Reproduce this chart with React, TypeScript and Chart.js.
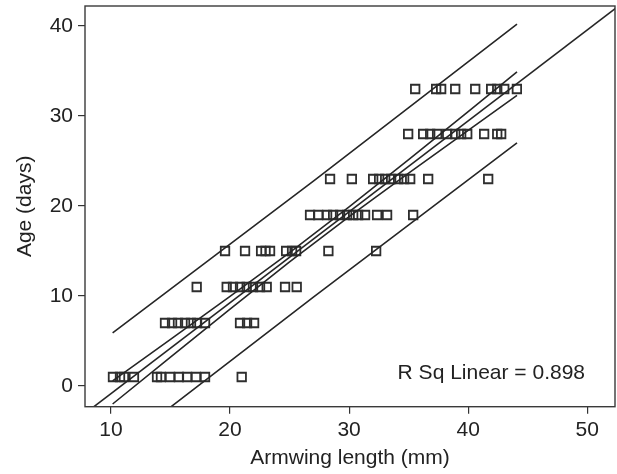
import React, { useEffect, useRef } from "react";
import { Chart, registerables } from "chart.js";

Chart.register(...registerables);

// ---- Data ----
const ageLevels = [1, 7, 11, 15, 19, 23, 28, 33];
const armwingAge1 = [10.17, 10.76, 11.09, 11.93, 13.87, 14.2, 14.96, 15.71, 16.39, 17.14, 17.9, 20.98];
const armwingAge7 = [14.54, 15.13, 15.63, 16.22, 16.72, 17.23, 17.9, 20.84, 21.43, 22.02];
const armwingAge11 = [17.2, 19.72, 20.25, 20.84, 21.4, 21.93, 22.52, 23.08, 24.62, 25.6];
const armwingAge15 = [19.58, 21.26, 22.61, 22.98, 23.36, 24.71, 25.21, 25.55, 28.26, 32.27];
const armwingAge19 = [26.72, 27.4, 28.15, 28.66, 29.24, 29.83, 30.34, 30.76, 31.34, 32.35, 33.19, 35.38];
const armwingAge23 = [28.4, 30.23, 32.02, 32.52, 33.03, 33.53, 34.12, 34.62, 35.13, 36.64, 41.68];
const armwingAge28 = [34.96, 36.22, 36.81, 37.39, 38.24, 38.91, 39.41, 39.92, 41.34, 42.44, 42.77];
const armwingAge33 = [35.55, 37.31, 37.73, 38.91, 40.59, 41.93, 42.44, 43.03, 44.09];
const armwingByAge = [armwingAge1, armwingAge7, armwingAge11, armwingAge15, armwingAge19, armwingAge23, armwingAge28, armwingAge33];

// Fit line (linear) and intervals
const fitX = [7, 53];
const fitY = [-3.88, 42.58];
const ciX = [10.14, 15, 20, 25, 30, 35, 40, 44.1];
const ciUpperY = [0.58, 5.18, 9.95, 14.82, 19.89, 25.15, 30.49, 34.9];
const ciLowerY = [-2.0, 3.22, 8.55, 13.78, 18.81, 23.65, 28.41, 32.28];
const piX = [10.14, 27, 44.1];
const piUpperY = [5.9, 22.77, 40.2];
const piLowerY = [-7.3, 9.87, 27.0];

const xTicks = [10, 20, 30, 40, 50];
const yTicks = [0, 10, 20, 30, 40];
const xMin = 7.82;
const xMax = 52.33;
const yMin = -2.3;
const yMax = 42.22;

const xTitle = "Armwing length (mm)";
const yTitle = "Age (days)";
const rSqLabel = "R Sq Linear = 0.898";

const FONT = "'Liberation Sans', Arial, Helvetica, sans-serif";
const TEXT = "#222222";
const INK = "#262626";

const toPts = (xs: number[], ys: number[]) => xs.map((x, i) => ({ x, y: ys[i] }));

const boxPlugin = {
  id: "boxAndLabel",
  afterDraw(chart: any) {
    const { ctx, chartArea: a } = chart;
    ctx.save();
    ctx.strokeStyle = "#3a3a3a";
    ctx.lineWidth = 1.4;
    ctx.strokeRect(a.left, a.top, a.right - a.left, a.bottom - a.top);
    ctx.font = `21px ${FONT}`;
    ctx.fillStyle = TEXT;
    ctx.textAlign = "right";
    ctx.textBaseline = "alphabetic";
    ctx.fillText(rSqLabel, a.right - 30, a.bottom - 27.5);
    ctx.restore();
  },
};

export default function App() {
  const ref = useRef<HTMLCanvasElement | null>(null);

  useEffect(() => {
    if (!ref.current) return;
    const points: { x: number; y: number }[] = [];
    armwingByAge.forEach((arr, i) => arr.forEach((x) => points.push({ x, y: ageLevels[i] })));

    const lineDs = (data: any[]) => ({
      type: "line" as const,
      data,
      borderColor: INK,
      borderWidth: 1.6,
      pointRadius: 0,
      fill: false,
      tension: 0,
    });

    const chart = new Chart(ref.current, {
      type: "scatter",
      data: {
        datasets: [
          lineDs(toPts(fitX, fitY)),
          lineDs(toPts(ciX, ciUpperY)),
          lineDs(toPts(ciX, ciLowerY)),
          lineDs(toPts(piX, piUpperY)),
          lineDs(toPts(piX, piLowerY)),
          {
            type: "scatter" as const,
            data: points,
            pointStyle: "rect",
            pointRadius: 6,
            borderWidth: 1.8,
            borderColor: "#2e2e2e",
            backgroundColor: "rgba(0,0,0,0)",
          },
        ] as any,
      },
      options: {
        responsive: false,
        animation: false,
        events: [],
        layout: { autoPadding: false, padding: { top: 6, right: 2, left: 0, bottom: 0 } },
        plugins: { legend: { display: false }, tooltip: { enabled: false } },
        scales: {
          x: {
            type: "linear",
            min: xMin,
            max: xMax,
            afterBuildTicks: (s: any) => {
              s.ticks = xTicks.map((v) => ({ value: v }));
            },
            afterFit: (s: any) => {
              s.height = 67.3;
              s.paddingLeft = 0;
              s.paddingRight = 0;
              s.paddingTop = 0;
              s.paddingBottom = 0;
            },
            grid: { display: true, drawOnChartArea: false, drawTicks: true, tickLength: 7, color: "#333", lineWidth: 1.2 },
            border: { display: false },
            ticks: { padding: 4, color: TEXT, font: { size: 21, family: FONT } },
            title: { display: true, text: xTitle, color: TEXT, font: { size: 21, family: FONT }, padding: { top: 0, bottom: 3 } },
          },
          y: {
            type: "linear",
            min: yMin,
            max: yMax,
            afterBuildTicks: (s: any) => {
              s.ticks = yTicks.map((v) => ({ value: v }));
            },
            afterFit: (s: any) => {
              s.width = 85;
              s.paddingLeft = 0;
              s.paddingRight = 0;
              s.paddingTop = 0;
              s.paddingBottom = 0;
            },
            grid: { display: true, drawOnChartArea: false, drawTicks: true, tickLength: 7, color: "#333", lineWidth: 1.2 },
            border: { display: false },
            ticks: { padding: 5, color: TEXT, font: { size: 21, family: FONT } },
            title: { display: true, text: yTitle, color: TEXT, font: { size: 21, family: FONT }, padding: { top: 13, bottom: 0 } },
          },
        },
      } as any,
      plugins: [boxPlugin],
    });
    return () => chart.destroy();
  }, []);

  return (
    <div style={{ position: "absolute", left: 0, top: 0, width: 617, height: 474, background: "#fff" }}>
      <canvas ref={ref} width={617} height={474} />
    </div>
  );
}
